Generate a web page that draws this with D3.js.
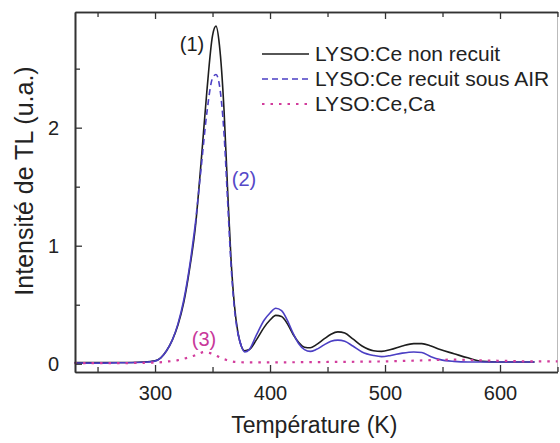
<!DOCTYPE html>
<html>
<head>
<meta charset="utf-8">
<script src="https://cdn.jsdelivr.net/npm/d3@7"></script>
<style>
  body { margin: 0; background: #fff; }
  svg text { font-family: "Liberation Sans", Arial, sans-serif; fill: #222; }
</style>
</head>
<body>
<div id="chart"></div>
<script>
const width = 560
const height = 443
const margin = { top: 12, right: 2, bottom: 71, left: 75 }

// temperatures (K) shared by the two LYSO:Ce curves
const temps = [230, 250, 270, 290, 300, 305, 310, 315, 320, 325, 330, 335, 340, 345, 350, 353, 356, 360, 363, 366, 369, 372, 375, 378, 382, 388, 395, 400, 405, 410, 415, 420, 425, 430, 435, 440, 447, 453, 459, 465, 472, 480, 490, 497, 505, 515, 525, 532, 540, 548, 560, 572, 585, 600, 630]
const nonRecuit = [0.01, 0.01, 0.01, 0.015, 0.025, 0.05, 0.11, 0.2, 0.33, 0.52, 0.8, 1.15, 1.7, 2.3, 2.78, 2.86, 2.7, 2.15, 1.5, 0.9, 0.5, 0.27, 0.15, 0.11, 0.12, 0.2, 0.31, 0.37, 0.41, 0.4, 0.34, 0.25, 0.18, 0.14, 0.135, 0.16, 0.21, 0.25, 0.27, 0.26, 0.21, 0.15, 0.11, 0.105, 0.12, 0.15, 0.17, 0.17, 0.15, 0.12, 0.085, 0.05, 0.02, 0.015, 0.015]
const recuitAir = [0.005, 0.005, 0.008, 0.012, 0.022, 0.05, 0.11, 0.2, 0.34, 0.54, 0.82, 1.18, 1.65, 2.12, 2.42, 2.45, 2.36, 1.95, 1.4, 0.85, 0.47, 0.26, 0.15, 0.1, 0.12, 0.24, 0.37, 0.43, 0.47, 0.45, 0.37, 0.26, 0.17, 0.12, 0.105, 0.12, 0.16, 0.19, 0.2, 0.19, 0.15, 0.1, 0.07, 0.06, 0.07, 0.09, 0.1, 0.095, 0.06, 0.035, 0.02, 0.015, 0.015, 0.015, 0.015]

// LYSO:Ce,Ca
const tempsCa = [230, 260, 290, 300, 310, 320, 328, 333, 338, 343, 348, 353, 358, 363, 370, 380, 400, 450, 500, 540, 560, 580, 600, 630, 650]
const valCa = [0.005, 0.005, 0.008, 0.01, 0.018, 0.03, 0.05, 0.065, 0.085, 0.1, 0.09, 0.07, 0.045, 0.03, 0.015, 0.012, 0.012, 0.015, 0.02, 0.03, 0.035, 0.03, 0.025, 0.02, 0.02]

const xTicks = [300, 400, 500, 600]
const xMinor = [250, 350, 450, 550, 650]
const yTicks = [0, 1, 2]
const yMinor = [0.5, 1.5, 2.5]

// the dashes of the "recuit" curve only show on the steep main peak
const dashedRange = [336, 375]

const series = [
  { name: 'LYSO:Ce non recuit', x: temps, y: nonRecuit, color: '#1e1e1e', dash: null, width: 1.6 },
  { name: 'LYSO:Ce recuit sous AIR', x: temps, y: recuitAir, color: '#4b3fc4', dash: '6,4', width: 1.6 },
  { name: 'LYSO:Ce,Ca', x: tempsCa, y: valCa, color: '#d23c9c', dash: '2.5,6', width: 2.2 }
]

const svg = d3.select('#chart').append('svg')
  .attr('width', width)
  .attr('height', height)

const innerH = height - margin.top - margin.bottom

const xScale = d3.scaleLinear().domain([230.4, 650]).range([margin.left, margin.left + 482.5])
const yScale = d3.scaleLinear().domain([-0.07, 2.98]).range([margin.top + innerH, margin.top])

const x0 = xScale.range()[0], x1 = xScale.range()[1]
const yb = yScale.range()[0], yt = yScale.range()[1]

// right frame (faint in the original)
svg.append('line')
  .attr('x1', x1).attr('x2', x1).attr('y1', yt).attr('y2', yb)
  .attr('stroke', '#bbb').attr('stroke-width', 1)

// curves
const line = d3.line().curve(d3.curveMonotoneX)
function drawPath(pts, s, dash) {
  svg.append('path')
    .attr('d', line(pts))
    .attr('fill', 'none')
    .attr('stroke', s.color)
    .attr('stroke-width', s.width)
    .attr('stroke-dasharray', dash)
}
series.forEach((s, si) => {
  const pts = s.x.map((t, i) => [t, s.y[i]])
  const toPx = p => [xScale(p[0]), yScale(p[1])]
  if (si === 1) {
    const [a, b] = dashedRange
    drawPath(pts.filter(p => p[0] <= a).map(toPx), s, null)
    drawPath(pts.filter(p => p[0] >= a - 1 && p[0] <= b).map(toPx), s, s.dash)
    drawPath(pts.filter(p => p[0] >= b - 3).map(toPx), s, null)
  } else {
    drawPath(pts.map(toPx), s, s.dash)
  }
})

// axes, ticks pointing inward
const styleAxis = g => {
  g.select('.domain').attr('stroke', '#333').attr('stroke-width', 1.6)
  g.selectAll('.tick line').attr('stroke', '#333').attr('stroke-width', 1.3)
  g.selectAll('.tick text').style('font-size', '20px').attr('fill', '#222')
}

svg.append('g')
  .attr('transform', `translate(0,${yb})`)
  .call(d3.axisBottom(xScale).tickValues(xTicks).tickSizeInner(-7).tickSizeOuter(0).tickPadding(14))
  .call(styleAxis)
svg.append('g')
  .attr('transform', `translate(0,${yb})`)
  .call(d3.axisBottom(xScale).tickValues(xMinor).tickSizeInner(-5).tickSizeOuter(0).tickFormat(''))
  .call(styleAxis)

svg.append('g')
  .attr('transform', `translate(0,${yt})`)
  .call(d3.axisTop(xScale).tickValues(xTicks).tickSizeInner(-7).tickSizeOuter(0).tickFormat(''))
  .call(styleAxis)
svg.append('g')
  .attr('transform', `translate(0,${yt})`)
  .call(d3.axisTop(xScale).tickValues(xMinor).tickSizeInner(-5).tickSizeOuter(0).tickFormat(''))
  .call(styleAxis)

svg.append('g')
  .attr('transform', `translate(${x0},0)`)
  .call(d3.axisLeft(yScale).tickValues(yTicks).tickFormat(d3.format('d')).tickSizeInner(-7).tickSizeOuter(0).tickPadding(16))
  .call(styleAxis)
svg.append('g')
  .attr('transform', `translate(${x0},0)`)
  .call(d3.axisLeft(yScale).tickValues(yMinor).tickSizeInner(-5).tickSizeOuter(0).tickFormat(''))
  .call(styleAxis)

// axis titles
svg.append('text')
  .attr('x', (x0 + x1) / 2 - 2)
  .attr('y', 433)
  .attr('text-anchor', 'middle')
  .style('font-size', '23px')
  .text('Température (K)')

svg.append('text')
  .attr('transform', `translate(33,${181}) rotate(-90)`)
  .attr('text-anchor', 'middle')
  .style('font-size', '25px')
  .text('Intensité de TL (u.a.)')

// legend
const legend = svg.append('g')
series.forEach((s, i) => {
  const y = 54 + i * 25
  legend.append('line')
    .attr('x1', 262).attr('x2', 309)
    .attr('y1', y).attr('y2', y)
    .attr('stroke', s.color)
    .attr('stroke-width', s.width)
    .attr('stroke-dasharray', s.dash)
  legend.append('text')
    .attr('x', 315)
    .attr('y', y + 7)
    .style('font-size', '21px')
    .text(s.name)
})

// peak labels
const peakLabels = [
  { text: '(1)', x: 192, y: 51, color: '#1e1e1e' },
  { text: '(2)', x: 244, y: 186, color: '#5548c8' },
  { text: '(3)', x: 204, y: 346, color: '#c8389a' }
]
peakLabels.forEach(p => {
  svg.append('text')
    .attr('x', p.x).attr('y', p.y)
    .attr('text-anchor', 'middle')
    .style('font-size', '20px')
    .style('fill', p.color)
    .text(p.text)
})
</script>
</body>
</html>
